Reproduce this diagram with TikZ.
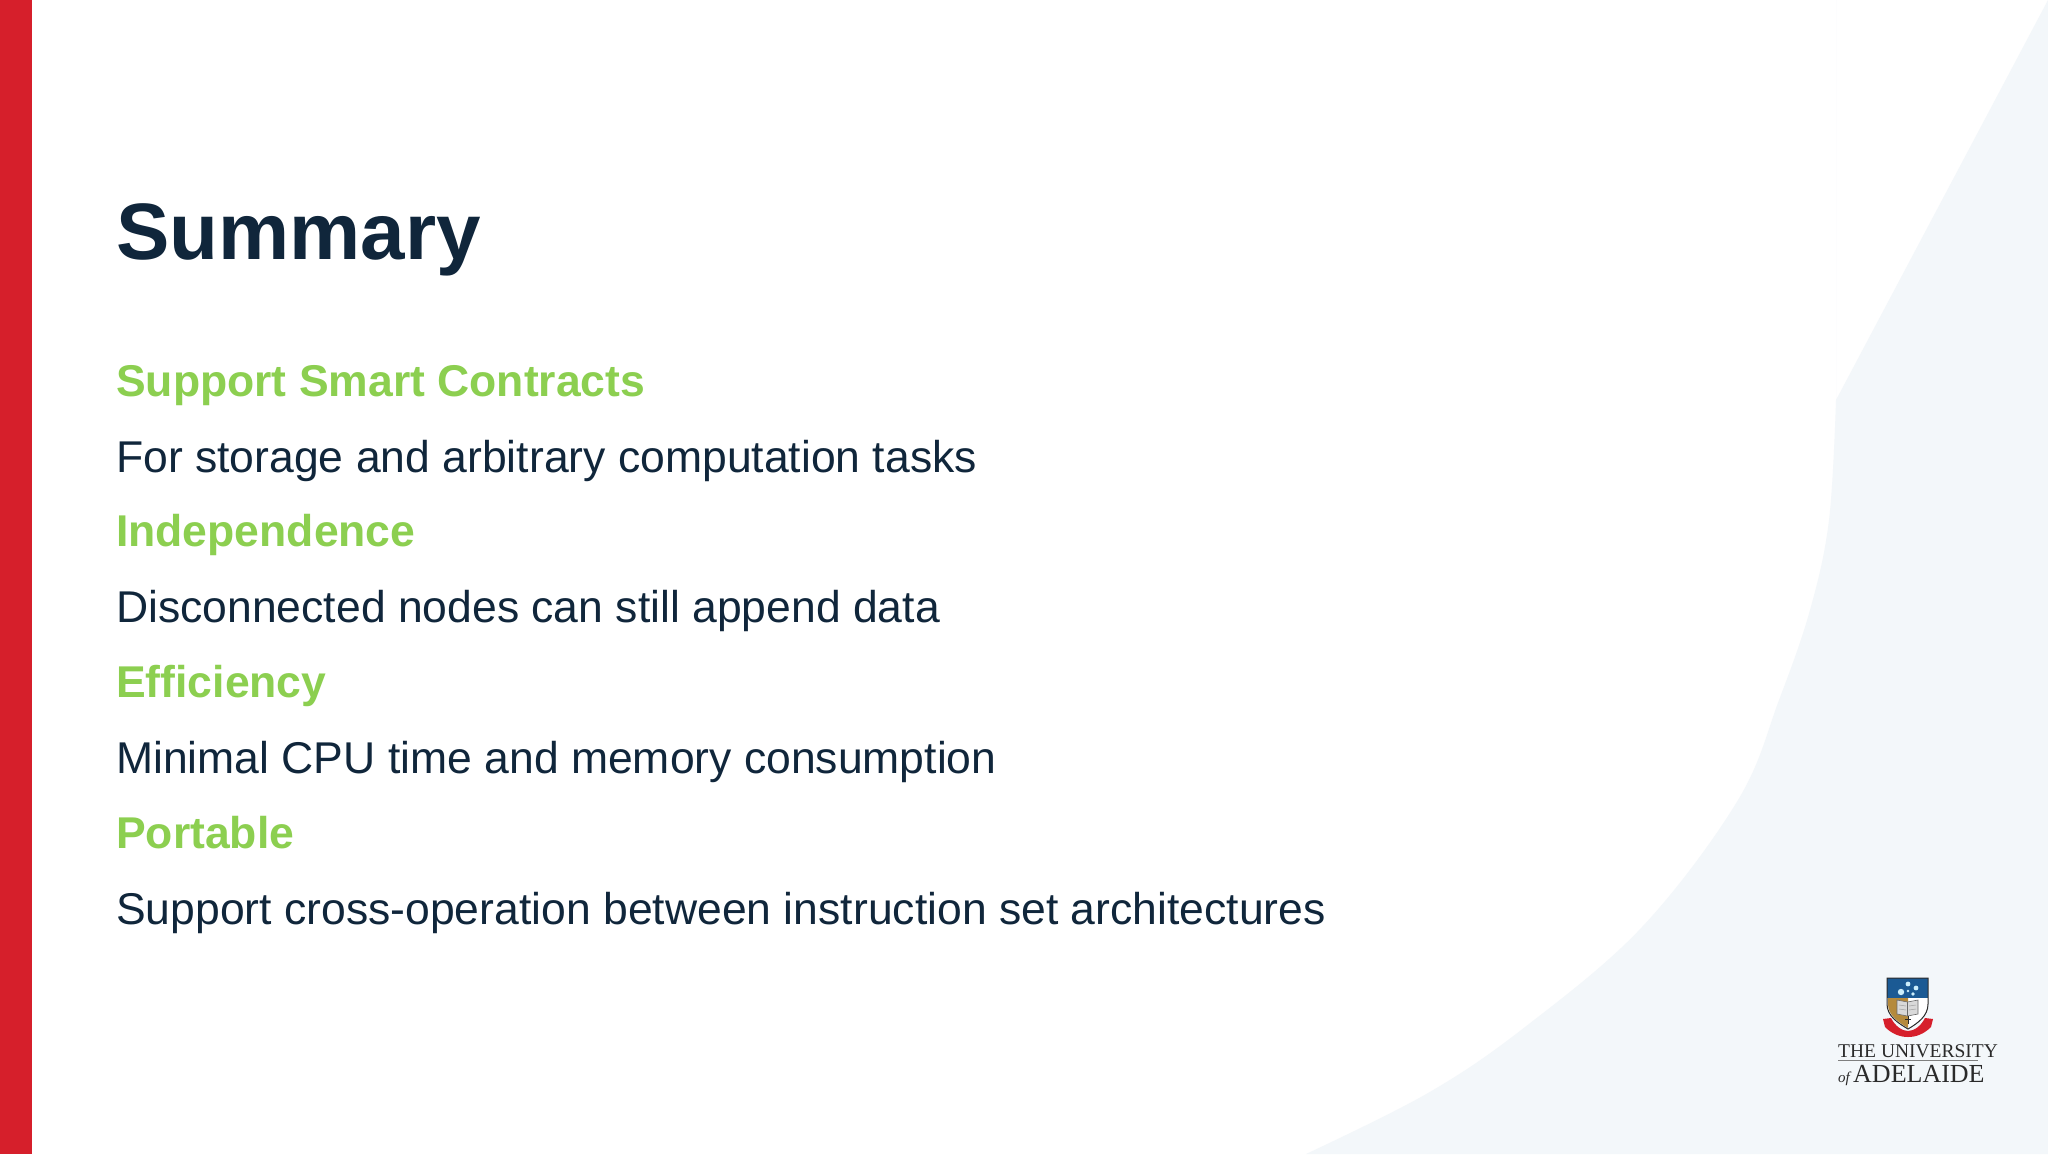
\documentclass[tikz,border=0pt]{standalone}
\usepackage{fontspec}
\setmainfont{Liberation Sans}
\newfontfamily\logofont{Liberation Serif}
\definecolor{navy}{HTML}{10263B}
\definecolor{leaf}{HTML}{8CCF50}
\definecolor{barred}{HTML}{D61F2B}
\definecolor{pale}{HTML}{F3F7FA}
\definecolor{crestblue}{HTML}{1B5A94}
\definecolor{crestgold}{HTML}{B58A3C}
\definecolor{logoink}{HTML}{2A2A2A}
\tikzset{
  titletext/.style={anchor=base west,inner sep=0pt,text=navy,font=\bfseries\fontsize{80}{90}\selectfont},
  headtext/.style={anchor=base west,inner sep=0pt,text=leaf,font=\bfseries\fontsize{44.5}{50}\selectfont},
  bodytext/.style={anchor=base west,inner sep=0pt,text=navy,font=\fontsize{44.5}{50}\selectfont},
  logotext/.style={anchor=base west,inner sep=0pt,text=logoink},
  star/.style={fill=white!80!cyan,draw=none}
}
\begin{document}
\begin{tikzpicture}[x=1pt,y=-1pt]
\useasboundingbox (0,0) rectangle (2048,1154);
\fill[white] (0,0) rectangle (2048,1154);
% pale background with curved edge
\fill[pale] (1836,0) -- (1836,400) plot[smooth,tension=0.6] coordinates {(1836,400) (1829,520) (1810,610) (1779,700) (1738,800) (1642,927) (1525,1027) (1428,1093) (1306,1154)} -- (2048,1154) -- (2048,0) -- cycle;
% red bar
\fill[barred] (0,0) rectangle (32,1154);
% text
\node[titletext] (title) at (116,259) {Summary};
\node[headtext] (h1) at (116,396) {Support Smart Contracts};
\node[bodytext] (b1) at (116,472) {For storage and arbitrary computation tasks};
\node[headtext] (h2) at (116,546.6) {Independence};
\node[bodytext] (b2) at (116,622.6) {Disconnected nodes can still append data};
\node[headtext] (h3) at (116,697) {Efficiency};
\node[bodytext] (b3) at (116,773) {Minimal CPU time and memory consumption};
\node[headtext] (h4) at (116,848) {Portable};
\node[bodytext] (b4) at (116,924) {Support cross-operation between instruction set architectures};
% crest: ribbon
\fill[barred] (1883,1019) -- (1891,1018) .. controls (1895,1026) and (1902,1031) .. (1908,1031) .. controls (1914,1031) and (1921,1026) .. (1925,1018) -- (1933,1019) -- (1931,1027) .. controls (1924,1034) and (1916,1037) .. (1908,1037) .. controls (1900,1037) and (1892,1034) .. (1885,1027) -- cycle;
% crest: shield
\fill[white] (1887,978) -- (1928,978) -- (1928,1004) .. controls (1928,1016) and (1918,1023) .. (1908,1029) .. controls (1898,1023) and (1887,1016) .. (1887,1004) -- cycle;
\fill[crestgold] (1888,998) -- (1908,998) -- (1908,1028) .. controls (1898,1022) and (1888,1015) .. (1888,1004) -- cycle;
\fill[crestblue] (1887,978) rectangle (1928,998);
\draw[logoink,line width=1pt] (1887,978) -- (1928,978) -- (1928,1004) .. controls (1928,1016) and (1918,1023) .. (1908,1029) .. controls (1898,1023) and (1887,1016) .. (1887,1004) -- cycle;
% crest: stars
\fill[star] (1901,992) circle (3.2);
\fill[star] (1908,984) circle (2.4);
\fill[star] (1916,988) circle (2.4);
\fill[star] (1913,994) circle (1.9);
\fill[star] (1908,991) circle (1.3);
% crest: book
\fill[white!85!black,draw=logoink!70,line width=0.6pt] (1897,1000) -- (1907.5,1002) -- (1918,1000) -- (1918,1014) -- (1907.5,1016) -- (1897,1014) -- cycle;
\draw[logoink!70,line width=0.6pt] (1907.5,1002) -- (1907.5,1016);
\draw[logoink!45,line width=0.5pt] (1899,1005) -- (1906,1006) (1899,1009) -- (1906,1010) (1909,1006) -- (1916,1005) (1909,1010) -- (1916,1009);
\draw[logoink,line width=0.8pt] (1908,1016) -- (1908,1024) (1905,1019) -- (1911,1019);
% logo text
\node[logotext,font=\logofont\fontsize{19.5}{20}\selectfont] (uni) at (1838,1057) {THE UNIVERSITY};
\draw[logoink!60,line width=0.5pt] (1838,1060) -- (1978,1060);
\node[logotext,font=\logofont\itshape\fontsize{15}{20}\selectfont] (of) at (1838,1082) {of};
\node[logotext,font=\logofont\fontsize{26}{28}\selectfont] (ade) at (1853,1082) {ADELAIDE};
\end{tikzpicture}
\end{document}
